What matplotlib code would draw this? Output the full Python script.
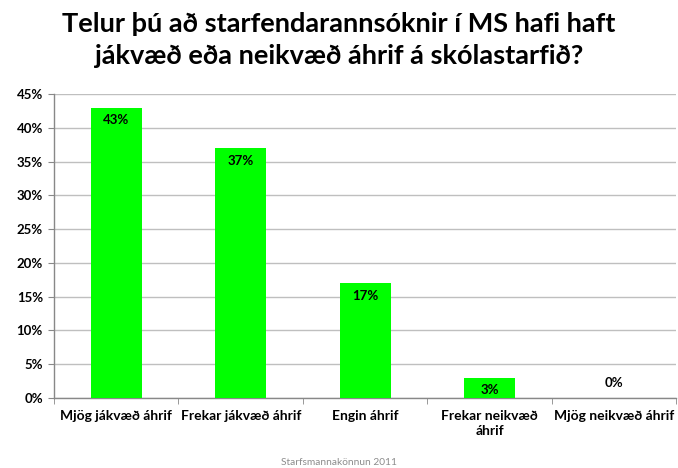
import matplotlib
matplotlib.use("Agg")
import matplotlib.pyplot as plt
import numpy as np

categories = ["Mjög jákvæð áhrif", "Frekar jákvæð áhrif", "Engin áhrif",
              "Frekar neikvæð\náhrif", "Mjög neikvæð áhrif"]
values = [43, 37, 17, 3, 0]
yticks = [0, 5, 10, 15, 20, 25, 30, 35, 40, 45]

plt.rcParams["font.family"] = ["Lato", "DejaVu Sans"]

fig = plt.figure(figsize=(6.78, 4.68), dpi=100)
ax = fig.add_axes([0.0796, 0.1496, 0.918, 0.6495])

x = np.arange(len(categories))
ax.bar(x, values, width=0.41, color="#00ff00", zorder=3)

for xi, v in zip(x, values):
    if v > 2:
        ax.text(xi, v - 1.0, f"{v}%", ha="center", va="top",
                fontsize=9.5, fontweight="bold", zorder=4)
    else:
        ax.text(xi, v + 1.3, f"{v}%", ha="center", va="bottom",
                fontsize=9.5, fontweight="bold", zorder=4)

ax.set_xlim(-0.5, len(categories) - 0.5)
ax.set_ylim(0, 45)
ax.set_yticks(yticks)
ax.set_yticklabels([f"{t}%" for t in yticks], fontsize=9.5, fontweight="bold")
ax.yaxis.grid(True, color="#bfbfbf", linewidth=1.0, zorder=0)
ax.set_axisbelow(True)

ax.set_xticks(x)
ax.set_xticklabels(categories, fontsize=10, fontweight="bold", linespacing=1.3)
ax.tick_params(axis="x", length=0, pad=9)
ax.set_xticks(np.arange(-0.5, len(categories)), minor=True)
ax.tick_params(axis="x", which="minor", length=4, color="#888888")
ax.tick_params(axis="y", length=4, color="#888888", pad=4)

for s in ["top", "right"]:
    ax.spines[s].set_visible(False)
for s in ["left", "bottom"]:
    ax.spines[s].set_color("#888888")
    ax.spines[s].set_linewidth(1.0)

fig.text(0.5, 0.975, "Telur þú að starfendarannsóknir í MS hafi haft\n"
         "jákvæð eða neikvæð áhrif á skólastarfið?",
         ha="center", va="top", fontsize=19.5, fontweight="bold",
         linespacing=1.4)
fig.text(0.5, 0.002, "Starfsmannakönnun 2011", ha="center", va="bottom",
         fontsize=7.3, color="#8c8c8c")

plt.savefig("out.png", dpi=100)
